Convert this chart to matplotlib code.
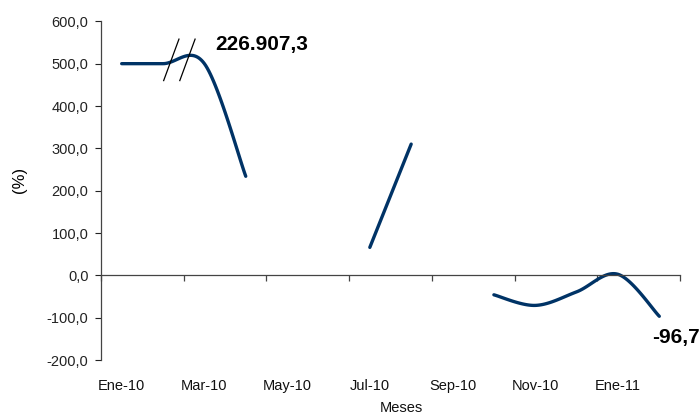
import matplotlib.pyplot as plt
import numpy as np
from matplotlib.ticker import FuncFormatter

plt.rcParams['font.family'] = ['Liberation Sans', 'DejaVu Sans']

# monthly series, Ene-10 .. Feb-11 (nan = no data)
meses = ['Ene-10', 'Feb-10', 'Mar-10', 'Abr-10', 'May-10', 'Jun-10', 'Jul-10',
         'Ago-10', 'Sep-10', 'Oct-10', 'Nov-10', 'Dic-10', 'Ene-11', 'Feb-11']
valores = [500, 500, 500, 234, np.nan, np.nan, 66,
           310, np.nan, -46, -71, -39, 2.5, -96.7]
etiqueta_cada = 2

color = '#003366'


def suavizar(x, y, n=30):
    # Excel-like smoothed line (Catmull-Rom as cubic Bezier)
    px, py = [], []
    for i in range(len(x) - 1):
        x0, y0 = (x[i - 1], y[i - 1]) if i > 0 else (x[i], y[i])
        x3, y3 = (x[i + 2], y[i + 2]) if i + 2 < len(x) else (x[i + 1], y[i + 1])
        c1x = x[i] + (x[i + 1] - x0) / 6
        c1y = y[i] + (y[i + 1] - y0) / 6
        c2x = x[i + 1] - (x3 - x[i]) / 6
        c2y = y[i + 1] - (y3 - y[i]) / 6
        t = np.linspace(0, 1, n)
        px.extend((1 - t) ** 3 * x[i] + 3 * (1 - t) ** 2 * t * c1x + 3 * (1 - t) * t ** 2 * c2x + t ** 3 * x[i + 1])
        py.extend((1 - t) ** 3 * y[i] + 3 * (1 - t) ** 2 * t * c1y + 3 * (1 - t) * t ** 2 * c2y + t ** 3 * y[i + 1])
    return px, py


fig = plt.figure(figsize=(7, 4.15), dpi=100)
ax = fig.add_axes([0.1443, 0.1325, 0.8271, 0.8161])

x = np.arange(len(meses))
v = np.array(valores, dtype=float)
# split into contiguous segments
seg = []
for i in x:
    if np.isnan(v[i]):
        seg = []
        continue
    seg.append(i)
    fin = i == len(v) - 1 or np.isnan(v[i + 1])
    if fin and len(seg) > 1:
        sx, sy = suavizar(list(x[seg]), list(v[seg]))
        ax.plot(sx, sy, color=color, lw=2.4, solid_capstyle='round', solid_joinstyle='round')

ax.set_xlim(-0.5, len(meses) - 0.5)
ax.set_ylim(-200, 600)
ax.set_yticks(np.arange(-200, 601, 100))
ax.yaxis.set_major_formatter(FuncFormatter(lambda val, p: f'{val:.1f}'.replace('.', ',')))
ax.tick_params(axis='y', labelsize=10.5, length=4, width=0.8, pad=5, colors='#222222')

ax.spines['top'].set_visible(False)
ax.spines['right'].set_visible(False)
ax.spines['bottom'].set_position(('data', 0))
for s in ['left', 'bottom']:
    ax.spines[s].set_color('#444444')
    ax.spines[s].set_linewidth(0.9)

ax.set_xticks(np.arange(-0.5, len(meses), etiqueta_cada))
ax.set_xticklabels([])
ax.tick_params(axis='x', direction='out', length=4, width=0.9, colors='#444444')

for i in range(0, len(meses), etiqueta_cada):
    ax.text(i, -0.076, meses[i], transform=ax.get_xaxis_transform(), ha='center', va='center',
            fontsize=10.5, color='#111111')
ax.text(0.518, -0.143, 'Meses', transform=ax.transAxes, ha='center', va='center',
        fontsize=10.5, color='#111111')
ax.set_ylabel('(%)', fontsize=12)
ax.yaxis.set_label_coords(-0.128, 0.531)

# break marks between Feb-10 and Mar-10
for xb in [1.2, 1.59]:
    ax.plot([xb - 0.185, xb + 0.185], [460, 558], color='black', lw=0.9)

ax.annotate('226.907,3', xy=(2, valores[2]), xytext=(7.5, 13.5), textcoords='offset points',
            fontsize=15, fontweight='bold', va='center', ha='left')
ax.annotate('-96,7', xy=(13, valores[13]), xytext=(-5.5, -15), textcoords='offset points',
            fontsize=15, fontweight='bold', va='center', ha='left')

fig.savefig('out.png', dpi=100)
